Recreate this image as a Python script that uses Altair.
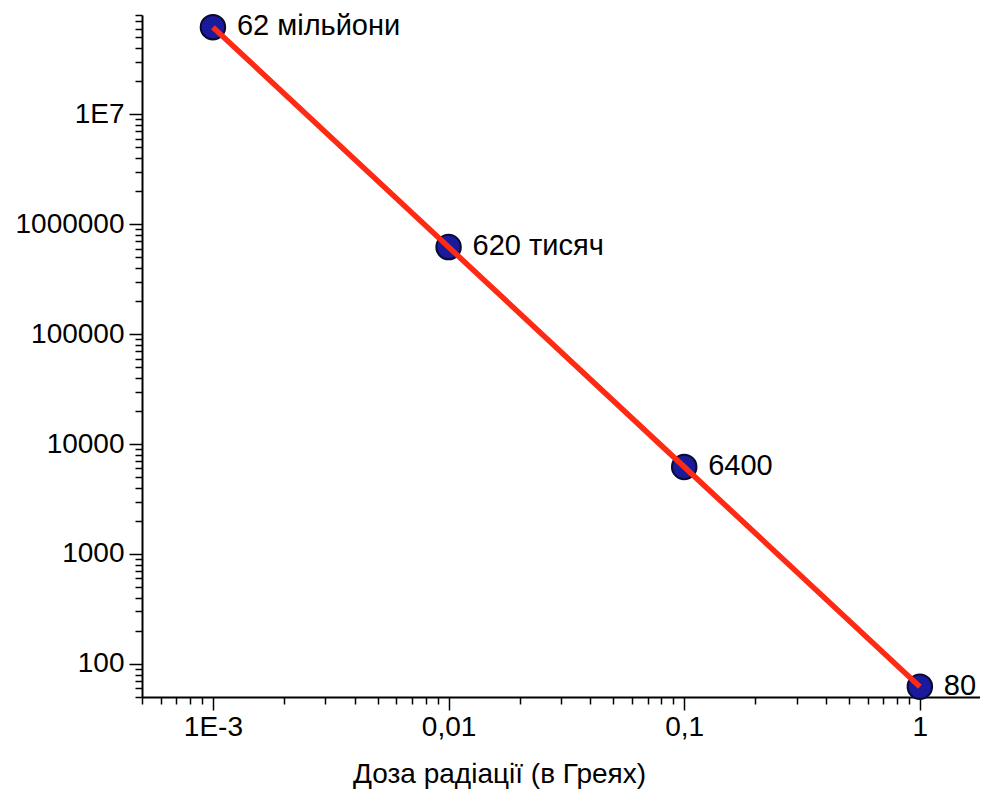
import altair as alt
import pandas as pd

# Data
dose = [0.001, 0.01, 0.1, 1]
cells = [62000000, 620000, 6200, 62]
point_labels = ["62 мільйони", "620 тисяч", "6400", "80"]

x_tick_values = [0.001, 0.01, 0.1, 1]
x_tick_labels = ["1E-3", "0,01", "0,1", "1"]
y_tick_values = [100, 1000, 10000, 100000, 1000000, 10000000]
y_tick_labels = ["100", "1000", "10000", "100000", "1000000", "1E7"]

x_title = "Доза радіації (в Греях)"

df = pd.DataFrame({"dose": dose, "cells": cells, "label": point_labels})

# minor tick positions
x_minor = [m * 1e-4 for m in range(5, 10)]
for k in (-3, -2, -1):
    x_minor += [m * 10.0 ** k for m in range(2, 10)]
y_minor = [m * 10 for m in range(5, 10)]
for k in range(2, 7):
    y_minor += [m * 10 ** k for m in range(2, 10)]
y_minor += [m * 10 ** 7 for m in range(2, 9)]

x_all = sorted(x_tick_values + x_minor)
y_all = sorted(y_tick_values + y_minor)


def label_expr(values, labels):
    expr = "''"
    for v, l in reversed(list(zip(values, labels))):
        expr = f"datum.value == {v!r} ? '{l}' : ({expr})"
    return expr


def major_test(values):
    return "indexof([" + ",".join(repr(v) for v in values) + "], datum.value) >= 0"


FONT = "Liberation Sans"

common_axis = dict(
    grid=False,
    domainColor="black",
    domainWidth=2,
    tickColor="black",
    tickWidth=1.5,
    labelColor="black",
    labelFont=FONT,
    labelFontSize=28,
    labelOverlap=False,
    labelFlush=False,
    labelBound=False,
)

x_axis = alt.Axis(
    values=x_all,
    labelExpr=label_expr(x_tick_values, x_tick_labels),
    tickSize={"condition": {"test": major_test(x_tick_values), "value": 13}, "value": 7},
    labelPadding=3,
    title=x_title,
    titleFont=FONT,
    titleFontSize=28,
    titleFontWeight="normal",
    titleColor="black",
    titleX=357,
    titleY=85,
    titleAlign="center",
    titleBaseline="alphabetic",
    **common_axis,
)

y_axis = alt.Axis(
    values=y_all,
    labelExpr=label_expr(y_tick_values, y_tick_labels),
    tickSize={"condition": {"test": major_test(y_tick_values), "value": 13}, "value": 7},
    labelPadding=5,
    title=None,
    **common_axis,
)

x_scale = alt.Scale(type="log", domain=[5e-4, 1.8], nice=False)
y_scale = alt.Scale(type="log", domain=[50, 8e7], nice=False)

base = alt.Chart(df).encode(
    x=alt.X("dose:Q", scale=x_scale, axis=x_axis),
    y=alt.Y("cells:Q", scale=y_scale, axis=y_axis),
)

points = base.mark_circle(size=600, color="#1a1a9c", opacity=1, stroke="#0a0a30", strokeWidth=2)
line = base.mark_line(color="#ff2a14", strokeWidth=5.5)
labels = base.mark_text(
    align="left", baseline="middle", dx=24, dy=-1, font=FONT, fontSize=29, color="black"
).encode(text="label:N")

chart = (
    alt.layer(points, line, labels)
    .properties(
        width=838,
        height=682,
        padding={"left": 134, "top": 7, "right": 0, "bottom": 95},
        autosize=alt.AutoSizeParams(type="none"),
        background="white",
    )
    .configure_view(stroke=None)
)

chart.save("out.html", embed_options={"renderer": "svg", "actions": False})
